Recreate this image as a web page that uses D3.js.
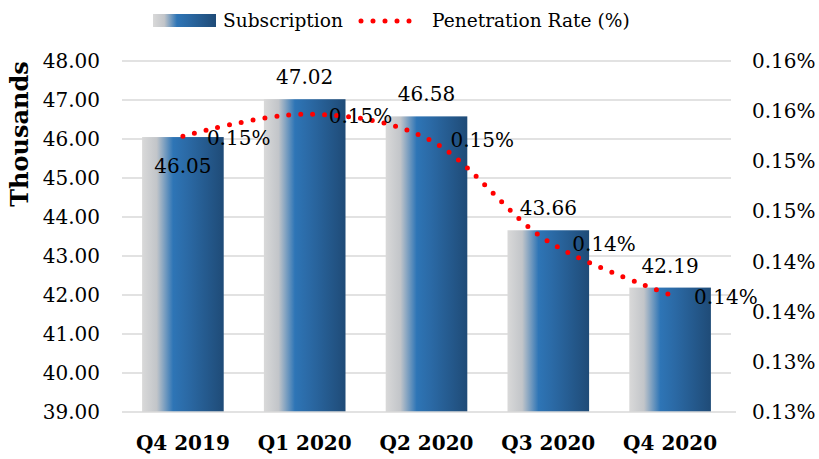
<!DOCTYPE html>
<html>
<head>
<meta charset="utf-8">
<script src="https://cdn.jsdelivr.net/npm/d3@7"></script>
<style>
  body { margin: 0; background: #fff; }
  text { font-family: "DejaVu Serif", serif; fill: #000; }
</style>
</head>
<body>
<script>
const width = 819;
const height = 459;

const quarters = ['Q4 2019', 'Q1 2020', 'Q2 2020', 'Q3 2020', 'Q4 2020'];
const subscription = [46.05, 47.02, 46.58, 43.66, 42.19];
const penetration = [0.1525, 0.1547, 0.1523, 0.1420, 0.1367];
const penetrationLabels = ['0.15%', '0.15%', '0.15%', '0.14%', '0.14%'];
const leftTicks = [39, 40, 41, 42, 43, 44, 45, 46, 47, 48];
const rightTicks = [0.125, 0.130, 0.135, 0.140, 0.145, 0.150, 0.155, 0.160];
const rightTickLabels = ['0.13%', '0.13%', '0.14%', '0.14%', '0.15%', '0.15%', '0.16%', '0.16%'];

const plot = {left: 122, right: 731, top: 61, bottom: 412};

const svg = d3.select('body')
    .append('svg')
    .attr('width', width)
    .attr('height', height);

const defs = svg.append('defs');
const grad = defs.append('linearGradient')
    .attr('id', 'barGrad')
    .attr('x1', '0%').attr('x2', '100%')
    .attr('y1', '0%').attr('y2', '0%');
grad.append('stop').attr('offset', '0%').attr('stop-color', '#d9d9d9');
grad.append('stop').attr('offset', '18%').attr('stop-color', '#c2c5c9');
grad.append('stop').attr('offset', '38%').attr('stop-color', '#2e75b6');
grad.append('stop').attr('offset', '55%').attr('stop-color', '#2b6aa6');
grad.append('stop').attr('offset', '100%').attr('stop-color', '#1f4b77');

const x = d3.scaleBand()
    .domain(quarters)
    .range([plot.left, plot.right])
    .paddingInner(0.33)
    .paddingOuter(0.165);

const y = d3.scaleLinear()
    .domain([39, 48])
    .range([plot.bottom, plot.top]);

const y2 = d3.scaleLinear()
    .domain([0.125, 0.160])
    .range([plot.bottom, plot.top]);

// gridlines
svg.append('g').selectAll('line')
    .data(leftTicks.slice(1))
    .enter().append('line')
    .attr('x1', plot.left).attr('x2', plot.right)
    .attr('y1', d => y(d)).attr('y2', d => y(d))
    .attr('stroke', '#d9d9d9')
    .attr('stroke-width', 1.5);

// left axis labels
svg.append('g').selectAll('text')
    .data(leftTicks)
    .enter().append('text')
    .attr('x', 100)
    .attr('y', d => y(d))
    .attr('dy', '0.35em')
    .attr('text-anchor', 'end')
    .style('font-size', '20px')
    .text(d => d.toFixed(2));

// right axis labels
svg.append('g').selectAll('text')
    .data(rightTicks)
    .enter().append('text')
    .attr('x', 752)
    .attr('y', d => y2(d))
    .attr('dy', '0.35em')
    .attr('text-anchor', 'start')
    .style('font-size', '20px')
    .text((d, i) => rightTickLabels[i]);

// bars
svg.append('g').selectAll('rect')
    .data(subscription)
    .enter().append('rect')
    .attr('x', (d, i) => x(quarters[i]))
    .attr('width', x.bandwidth())
    .attr('y', d => y(d))
    .attr('height', d => plot.bottom - y(d))
    .attr('fill', 'url(#barGrad)');

// x axis line
svg.append('line')
    .attr('x1', plot.left).attr('x2', plot.right + 5)
    .attr('y1', plot.bottom).attr('y2', plot.bottom)
    .attr('stroke', '#d9d9d9')
    .attr('stroke-width', 1.5);

// category labels
svg.append('g').selectAll('text')
    .data(quarters)
    .enter().append('text')
    .attr('x', d => x(d) + x.bandwidth() / 2)
    .attr('y', 443)
    .attr('dy', '0.35em')
    .attr('text-anchor', 'middle')
    .style('font-size', '20px')
    .style('font-weight', 'bold')
    .text(d => d);

// y title
svg.append('text')
    .attr('transform', 'translate(28,134) rotate(-90)')
    .attr('text-anchor', 'middle')
    .style('font-size', '24px')
    .style('font-weight', 'bold')
    .text('Thousands');

// penetration line
const cx = i => x(quarters[i]) + x.bandwidth() / 2;
const line = d3.line()
    .x((d, i) => cx(i))
    .y(d => y2(d))
    .curve(d3.curveCatmullRom.alpha(0.5));
svg.append('path')
    .datum(penetration)
    .attr('d', line)
    .attr('fill', 'none')
    .attr('stroke', '#ff0000')
    .attr('stroke-width', 5)
    .attr('stroke-linecap', 'round')
    .attr('stroke-dasharray', '0 12');

// bar value labels
svg.append('g').selectAll('text')
    .data(subscription)
    .enter().append('text')
    .attr('x', (d, i) => cx(i))
    .attr('y', (d, i) => i === 0 ? y(d) + 29 : y(d) - 22)
    .attr('dy', '0.35em')
    .attr('text-anchor', 'middle')
    .style('font-size', '20px')
    .text(d => d.toFixed(2));

// penetration labels
svg.append('g').selectAll('text')
    .data(penetration)
    .enter().append('text')
    .attr('x', (d, i) => cx(i) + 24)
    .attr('y', d => y2(d) + 2)
    .attr('dy', '0.35em')
    .attr('text-anchor', 'start')
    .style('font-size', '20px')
    .text((d, i) => penetrationLabels[i]);

// legend
const legend = svg.append('g');
legend.append('rect')
    .attr('x', 153).attr('y', 14)
    .attr('width', 63).attr('height', 13)
    .attr('fill', 'url(#barGrad)');
legend.append('text')
    .attr('x', 223).attr('y', 20)
    .attr('dy', '0.35em')
    .style('font-size', '18.6px')
    .text('Subscription');
legend.append('line')
    .attr('x1', 361).attr('x2', 421)
    .attr('y1', 21).attr('y2', 21)
    .attr('stroke', '#ff0000')
    .attr('stroke-width', 5)
    .attr('stroke-linecap', 'round')
    .attr('stroke-dasharray', '0 12');
legend.append('text')
    .attr('x', 432).attr('y', 20)
    .attr('dy', '0.35em')
    .style('font-size', '18.6px')
    .text('Penetration Rate (%)');
</script>
</body>
</html>
